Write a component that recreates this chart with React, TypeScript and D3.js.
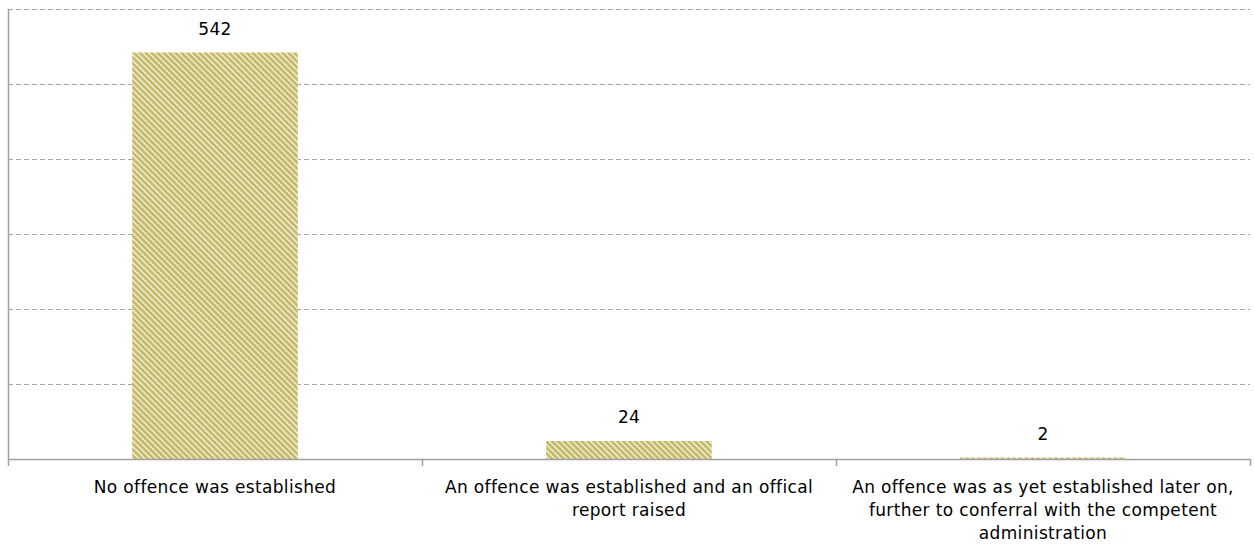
import React from "react";
import * as d3 from "d3";

const categories: string[][] = [
  ["No offence was established"],
  ["An offence was established and an offical", "report raised"],
  ["An offence was as yet established later on,", "further to conferral with the competent", "administration"],
];
const values: number[] = [542, 24, 2];
const yTicks: number[] = [0, 100, 200, 300, 400, 500, 600];

const W = 1254, H = 547;
const margin = { left: 8, right: 4, top: 9, bottom: 88 };

export default function App() {
  const x = d3.scaleBand<number>().domain(d3.range(values.length)).range([margin.left, W - margin.right]).paddingInner(0).paddingOuter(0);
  const y = d3.scaleLinear().domain([0, 600]).range([H - margin.bottom, margin.top]);
  const bw = x.bandwidth() * 0.4;
  const font = "'DejaVu Sans', Verdana, sans-serif";
  const base = y(0);
  return (
    <svg width={W} height={H} style={{ position: "absolute", left: 0, top: 0, background: "#fff" }}>
      <defs>
        <pattern id="stripes" width="4.2" height="4.2" patternUnits="userSpaceOnUse" patternTransform="rotate(-45)">
          <rect width="4.2" height="4.2" fill="#c4ba68" />
          <rect x="0" y="0" width="1.3" height="4.2" fill="#ffffff" opacity="0.85" />
        </pattern>
      </defs>
      {yTicks.filter(t => t > 0).map(t => (
        <line key={t} x1={margin.left} x2={W - margin.right} y1={Math.round(y(t)) + 0.5} y2={Math.round(y(t)) + 0.5}
          stroke="#a6a6a6" strokeWidth={1} strokeDasharray="5,3" />
      ))}
      {values.map((v, i) => {
        const cx = x(i)! + x.bandwidth() / 2;
        return (
          <g key={i}>
            <rect x={cx - bw / 2} y={y(v)} width={bw} height={base - y(v)} fill="url(#stripes)" />
            <text x={cx} y={y(v) - 18} textAnchor="middle" fontFamily={font} fontSize={17} letterSpacing={0.3} fill="#000">{v}</text>
          </g>
        );
      })}
      <line x1={margin.left + 0.5} x2={margin.left + 0.5} y1={margin.top} y2={base} stroke="#a0a0a0" strokeWidth={1.5} />
      <line x1={margin.left} x2={W - margin.right} y1={base + 0.5} y2={base + 0.5} stroke="#a0a0a0" strokeWidth={1.5} />
      {d3.range(values.length + 1).map(i => {
        const tx = i < values.length ? x(i)! : W - margin.right;
        return <line key={i} x1={tx + 0.5} x2={tx + 0.5} y1={base} y2={base + 7} stroke="#a0a0a0" strokeWidth={1.5} />;
      })}
      {categories.map((lines, i) => {
        const cx = x(i)! + x.bandwidth() / 2;
        return (
          <text key={i} textAnchor="middle" fontFamily={font} fontSize={17} letterSpacing={0.35} fill="#000">
            {lines.map((l, j) => (
              <tspan key={j} x={cx} y={base + 34 + j * 23}>{l}</tspan>
            ))}
          </text>
        );
      })}
    </svg>
  );
}
